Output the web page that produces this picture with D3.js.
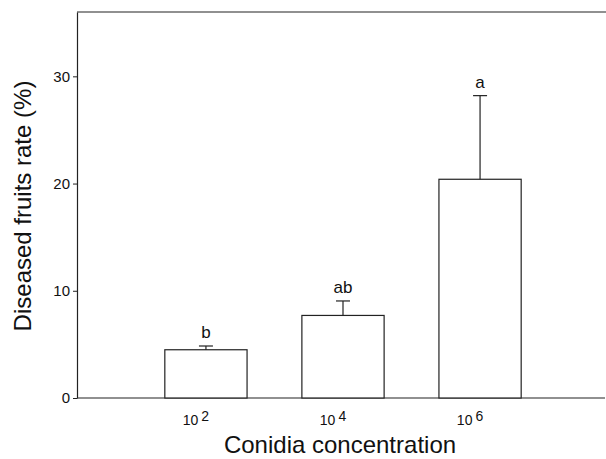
<!DOCTYPE html>
<html>
<head>
<meta charset="utf-8">
<script src="https://cdn.jsdelivr.net/npm/d3@7"></script>
<style>
  body { margin: 0; background: #fff; }
  text { font-family: "Liberation Sans", Arial, sans-serif; fill: #111; }
</style>
</head>
<body>
<svg id="chart"></svg>
<script>
// data
const categories = ["10^2", "10^4", "10^6"];
const exponents = ["2", "4", "6"];
const means = [4.5, 7.7, 20.4];
const errors = [0.35, 1.35, 7.8];
const letters = ["b", "ab", "a"];
const yTicks = [0, 10, 20, 30];

const width = 606, height = 459;
const margin = {top: 12, right: 0, bottom: 61, left: 77};
const innerW = width - margin.left - margin.right;
const innerH = height - margin.top - margin.bottom;

const svg = d3.select("#chart")
    .attr("width", width)
    .attr("height", height);

const g = svg.append("g")
    .attr("transform", "translate(" + margin.left + "," + margin.top + ")");

// scales
const x = d3.scaleBand().domain(categories).range([33, 499]).padding(0.4);
const y = d3.scaleLinear().domain([0, 36]).range([innerH, 0]);

const ink = "#222";

// frame: top line and bottom baseline
g.append("line")
    .attr("x1", 0).attr("x2", innerW)
    .attr("y1", 0).attr("y2", 0)
    .attr("stroke", ink).attr("stroke-width", 1.2);

g.append("line")
    .attr("x1", 0).attr("x2", innerW - 1)
    .attr("y1", innerH).attr("y2", innerH)
    .attr("stroke", ink).attr("stroke-width", 1.2);

// y axis
const yAxis = g.append("g")
    .call(d3.axisLeft(y).tickValues(yTicks).tickSize(4).tickSizeOuter(0).tickPadding(3));
yAxis.select(".domain").attr("stroke", ink).attr("stroke-width", 1.2);
yAxis.selectAll(".tick line").attr("stroke", ink);
yAxis.selectAll(".tick text")
    .attr("font-size", 15)
    .attr("font-family", "Liberation Sans, Arial, sans-serif")
    .attr("fill", "#111");

// bars
g.selectAll(".bar")
    .data(means)
    .join("rect")
    .attr("class", "bar")
    .attr("x", (d, i) => x(categories[i]))
    .attr("y", d => y(d))
    .attr("width", x.bandwidth())
    .attr("height", d => innerH - y(d))
    .attr("fill", "#fff")
    .attr("stroke", ink)
    .attr("stroke-width", 1.2);

// error bars (upper only)
const capW = 14;
const err = g.selectAll(".err")
    .data(means)
    .join("g")
    .attr("class", "err")
    .attr("transform", (d, i) => "translate(" + (x(categories[i]) + x.bandwidth() / 2) + ",0)");

err.append("line")
    .attr("x1", 0).attr("x2", 0)
    .attr("y1", d => y(d))
    .attr("y2", (d, i) => y(d + errors[i]))
    .attr("stroke", ink).attr("stroke-width", 1.2);

err.append("line")
    .attr("x1", -capW / 2).attr("x2", capW / 2)
    .attr("y1", (d, i) => y(d + errors[i]))
    .attr("y2", (d, i) => y(d + errors[i]))
    .attr("stroke", ink).attr("stroke-width", 1.2);

// significance letters
err.append("text")
    .attr("y", (d, i) => y(d + errors[i]) - 8)
    .attr("text-anchor", "middle")
    .attr("font-size", 17)
    .text((d, i) => letters[i]);

// x tick labels with superscript exponents
const xl = g.selectAll(".xlab")
    .data(categories)
    .join("text")
    .attr("class", "xlab")
    .attr("x", d => x(d) + x.bandwidth() / 2 - 10)
    .attr("y", innerH + 27)
    .attr("text-anchor", "middle")
    .attr("font-size", 14);
xl.append("tspan").text("10");
xl.append("tspan")
    .attr("dx", 3)
    .attr("dy", -4)
    .text((d, i) => exponents[i]);

// axis titles
svg.append("text")
    .attr("x", 340)
    .attr("y", 453)
    .attr("text-anchor", "middle")
    .attr("font-size", 24)
    .text("Conidia concentration");

svg.append("text")
    .attr("transform", "translate(31," + (margin.top + 194) + ") rotate(-90)")
    .attr("text-anchor", "middle")
    .attr("font-size", 24)
    .text("Diseased fruits rate (%)");
</script>
</body>
</html>
